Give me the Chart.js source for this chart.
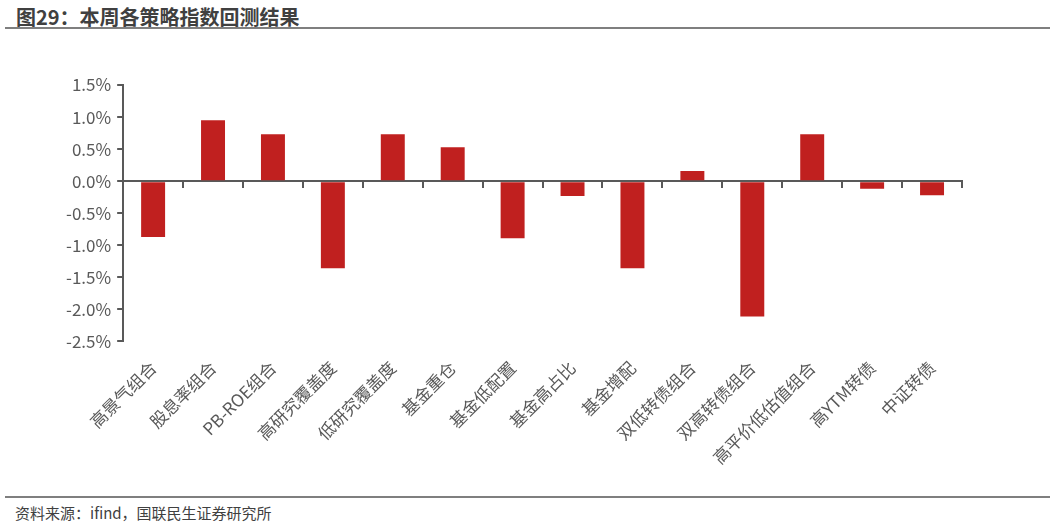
<!DOCTYPE html>
<html>
<head>
<meta charset="utf-8">
<script src="https://cdn.jsdelivr.net/npm/chart.js@4"></script>
<style>
  body { margin: 0; background: #fff; font-family: "Microsoft YaHei", "Noto Sans CJK SC", sans-serif; }
  #wrap { position: relative; width: 1055px; height: 525px; overflow: hidden; }
  #title { position: absolute; left: 16px; top: 2px; font-size: 20px; font-weight: bold; color: #404040; }
  #topline { position: absolute; left: 5px; right: 5px; top: 27px; height: 2px; background: #7f7f7f; }
  #box { position: absolute; left: 0; top: 30px; width: 1055px; height: 462px; }
  #botline { position: absolute; left: 5px; right: 5px; top: 496px; height: 2px; background: #7f7f7f; }
  #source { position: absolute; left: 15px; top: 502px; font-size: 15px; color: #404040; }
</style>
</head>
<body>
<div id="wrap">
  <div id="title">图29：本周各策略指数回测结果</div>
  <div id="topline"></div>
  <div id="box"><canvas id="chart"></canvas></div>
  <div id="botline"></div>
  <div id="source">资料来源：ifind，国联民生证券研究所</div>
</div>
<script>
// categories and weekly return (%)
const categories = ['高景气组合', '股息率组合', 'PB-ROE组合', '高研究覆盖度', '低研究覆盖度', '基金重仓', '基金低配置',
    '基金高占比', '基金增配', '双低转债组合', '双高转债组合', '高平价低估值组合', '高YTM转债', '中证转债'];
const returns = [-0.87, 0.95, 0.73, -1.36, 0.73, 0.53, -0.89, -0.23, -1.36, 0.16, -2.11, 0.73, -0.12, -0.22];
const yTicks = [-2.5, -2.0, -1.5, -1.0, -0.5, 0.0, 0.5, 1.0, 1.5];

const axisColor = '#595959';
const fontFamily = '"Microsoft YaHei", "Noto Sans CJK SC", sans-serif';

new Chart(document.getElementById('chart').getContext('2d'), {
    type: 'bar',
    data: {
        labels: categories,
        datasets: [{
            data: returns,
            backgroundColor: '#c0201f',
            barPercentage: 0.4,
            categoryPercentage: 1.0
        }]
    },
    options: {
        responsive: true,
        maintainAspectRatio: false,
        animation: false,
        layout: { padding: { left: 60, right: 93, top: 55, bottom: 16 } },
        plugins: { legend: { display: false }, tooltip: { enabled: false } },
        scales: {
            x: {
                position: 'bottom',
                border: { display: false },
                grid: { display: false },
                ticks: {
                    color: axisColor,
                    font: { family: fontFamily, size: 17 },
                    maxRotation: 45,
                    minRotation: 45,
                    autoSkip: false,
                    padding: 8
                }
            },
            x0: {
                type: 'category',
                position: { y: 0 },
                border: { display: true, color: axisColor, width: 2 },
                grid: { drawOnChartArea: false, drawTicks: true, tickLength: 6, color: axisColor, lineWidth: 2, offset: true },
                ticks: { display: false }
            },
            y: {
                min: -2.5,
                max: 1.5,
                afterBuildTicks: axis => { axis.ticks = yTicks.map(v => ({ value: v })); },
                border: { display: true, color: axisColor, width: 2 },
                grid: { drawOnChartArea: false, drawTicks: true, tickLength: 6, color: axisColor, lineWidth: 2 },
                ticks: {
                    color: axisColor,
                    font: { family: fontFamily, size: 17 },
                    padding: 6,
                    callback: v => v.toFixed(1) + '%'
                }
            }
        }
    }
});
</script>
</body>
</html>
